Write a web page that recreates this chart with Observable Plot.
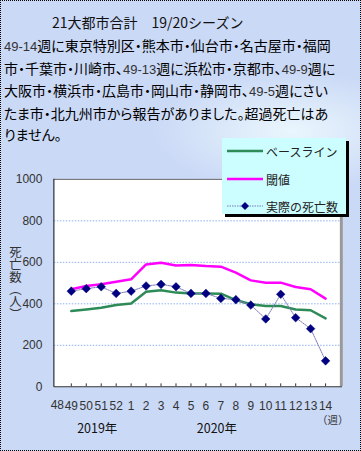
<!DOCTYPE html>
<html><head><meta charset="utf-8">
<script src="https://cdn.jsdelivr.net/npm/d3@7"></script>
<script src="https://cdn.jsdelivr.net/npm/@observablehq/plot@0.6"></script>
<style>
html,body{margin:0;padding:0;}
#wrap{position:relative;width:359px;height:449px;border:1px dotted #000;overflow:hidden;
 background: radial-gradient(ellipse 140px 60px at 290px 130px, #eaf6fd 0%, rgba(234,246,253,0) 100%), #cad9f6;
 font-family:"Noto Sans CJK JP",sans-serif;}
#title{position:absolute;left:51px;top:11px;font-size:14px;color:#111;white-space:nowrap;}
#para{position:absolute;left:3px;top:34px;font-size:14px;line-height:21.5px;color:#000;white-space:nowrap;font-feature-settings:"palt";}
#para .n{font-family:"Liberation Sans",sans-serif;color:#333;font-size:13px;}
#chart{position:absolute;left:-1px;top:129px;}
#legend{position:absolute;left:221px;top:137px;width:124px;height:76px;background:#ccfeff;box-shadow:3px 3px 0 #000;font-size:12px;color:#222;}
#legend .row{position:absolute;left:5px;height:16px;display:flex;align-items:center;}
#legend svg{margin-right:3px;}
</style></head>
<body>
<div id="wrap">
<div id="title">21大都市合計　19/20シーズン</div>
<div id="para"><span class="n">49-14</span>週に東京特別区・熊本市・仙台市・名古屋市・福岡<br>市・千葉市・川崎市、<span class="n">49-13</span>週に浜松市・京都市、<span class="n">49-9</span>週に<br>大阪市・横浜市・広島市・岡山市・静岡市、<span class="n">49-5</span>週にさい<br>たま市・北九州市から報告がありました。超過死亡はあ<br>りません。</div>
<div id="chart"></div>
<div id="legend"></div>
</div>
<script>
const weeks = ["49","50","51","52","1","2","3","4","5","6","7","8","9","10","11","12","13","14"];
const baseline = [365,373,381,394,402,458,465,454,450,450,449,418,398,389,389,373,369,330];
const threshold = [470,486,494,506,518,590,598,585,587,582,579,550,513,502,502,481,470,425];
const actual = [461,473,482,450,461,486,494,482,450,450,426,420,394,327,446,333,280,125];
const yTicks = [0,200,400,600,800,1000];
const gridValues = [200,400,600,800];
const years = [{label:"2019年", week:"51"},{label:"2020年", week:"7"}];
const seriesNames = ["ベースライン","閾値","実際の死亡数"];
const yLabel = "死亡数（人）";
const colors = {baseline:"#2e8b57", threshold:"#ff00ff", actual:"#000080", actualLine:"#7a7ab8"};

const rows = weeks.map((w,i)=>({week:w, baseline:baseline[i], threshold:threshold[i], actual:actual[i]}));

const chart = Plot.plot({
  width: 361, height: 322,
  marginLeft: 54, marginRight: 18, marginTop: 49, marginBottom: 65,
  style: {background:"transparent", fontFamily:"'Liberation Sans', sans-serif"},
  x: {type:"point", domain: weeks, padding: 0.95, label: null},
  y: {domain:[0,1000], label: null},
  marks: [
    Plot.frame({fill:"white", stroke:null}),
    Plot.ruleY(gridValues, {stroke:"#8fb0f0", strokeDasharray:"1.5,1.5", strokeWidth:1}),
    Plot.line(rows, {x:"week", y:"baseline", stroke:colors.baseline, strokeWidth:2.5}),
    Plot.line(rows, {x:"week", y:"threshold", stroke:colors.threshold, strokeWidth:2.5}),
    Plot.line(rows, {x:"week", y:"actual", stroke:colors.actualLine, strokeWidth:1, strokeDasharray:"1.5,1"}),
    Plot.dot(rows, {x:"week", y:"actual", symbol:"diamond2", r:3.9, fill:colors.actual, stroke:colors.actual, strokeWidth:0.5}),
    Plot.ruleX(weeks, {x: d=>d, y1: 0, y2: 14, stroke:"#333", strokeWidth:1}),
    Plot.ruleY([1000], {stroke:"#666"}),
    Plot.ruleX([weeks[weeks.length-1]], {frameAnchor:"right", stroke:"#999", strokeWidth:3, dx: 15.8}),
    Plot.ruleY([0], {stroke:"#333", strokeWidth:1.2}),
    Plot.axisY(yTicks, {tickSize:0, tickPadding:12, fontSize:12, fill:"#333", tickFormat: d => String(d)}),
    Plot.axisX(weeks, {tickSize:0, tickPadding:15, fontSize:12, fill:"#333"}),
    Plot.text(["48"], {x: () => weeks[0], frameAnchor:"bottom", dy: 22, dx:-14, fontSize:12, fill:"#333"}),
    Plot.text(years, {x:"week", text:"label", frameAnchor:"bottom", dy:46, dx:-4, fontSize:12.5, fill:"#111", fontFamily:"'Noto Sans CJK JP', sans-serif"}),
    Plot.text(["（週）"], {frameAnchor:"bottom-right", dy:37, dx:6, textAnchor:"end", fontSize:10.5, fill:"#333", fontFamily:"'Noto Sans CJK JP', sans-serif"}),
    Plot.text([yLabel], {frameAnchor:"left", dx:-39, dy:-4, fontSize:12.5, fill:"#333", fontFamily:"'Noto Sans CJK JP', sans-serif", ariaLabel:"ylabel"})
  ]
});
document.getElementById("chart").appendChild(chart);
const svg = d3.select(chart);
svg.append("line").attr("x1",54).attr("x2",54).attr("y1",49).attr("y2",257.5).attr("stroke","#333").attr("stroke-width",1.2);
// vertical writing for the y label
svg.selectAll("text").filter(function(){ return this.textContent === yLabel; })
  .attr("writing-mode","vertical-rl").attr("text-anchor","middle").attr("dy", null)
  .style("text-orientation","upright");

// legend
const leg = d3.select("#legend");
const legItems = [
  {name: seriesNames[0], kind:"line", color: colors.baseline, top: 5},
  {name: seriesNames[1], kind:"line", color: colors.threshold, top: 33},
  {name: seriesNames[2], kind:"dot", color: colors.actual, top: 60}
];
legItems.forEach(it=>{
  const r = leg.append("div").attr("class","row").style("top", it.top+"px");
  const s = r.append("svg").attr("width",36).attr("height",10);
  if (it.kind==="line") {
    s.append("line").attr("x1",0).attr("x2",36).attr("y1",5).attr("y2",5).attr("stroke",it.color).attr("stroke-width",2.5);
  } else {
    s.append("line").attr("x1",0).attr("x2",36).attr("y1",5).attr("y2",5).attr("stroke",colors.actualLine).attr("stroke-dasharray","1.5,1");
    s.append("path").attr("d","M18,1L22,5L18,9L14,5Z").attr("fill",it.color);
  }
  r.append("span").text(it.name);
});
</script>
</body></html>
